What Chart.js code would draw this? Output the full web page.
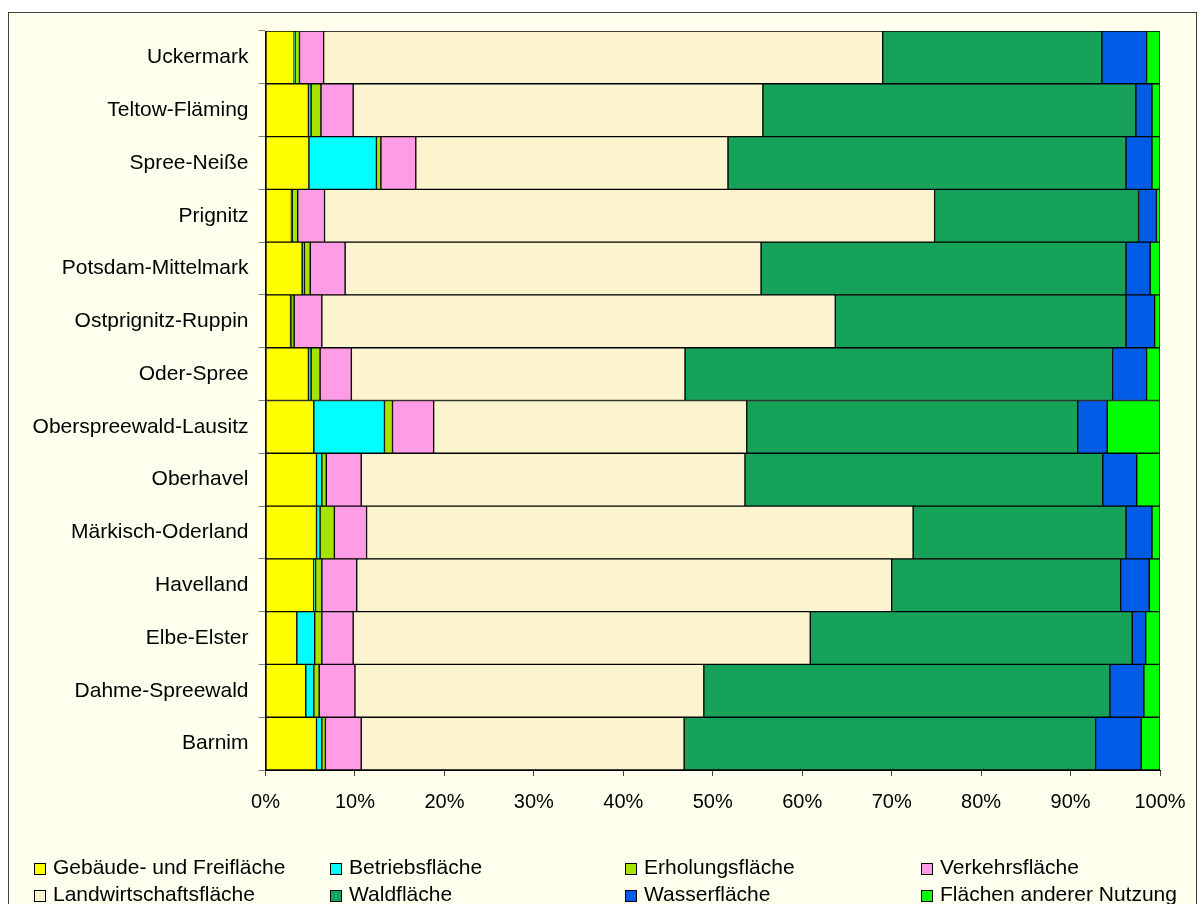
<!DOCTYPE html>
<html>
<head>
<meta charset="utf-8">
<script src="https://cdn.jsdelivr.net/npm/chart.js@4"></script>
<style>
  html, body { margin: 0; padding: 0; background: #fff; }
  #frame {
    position: absolute; left: 8px; top: 12px; width: 1187px; height: 900px;
    background: #ffffee; border: 1px solid #404040;
  }
  #wrap { position: absolute; left: 0; top: 0; width: 1204px; height: 904px; }
</style>
</head>
<body>
<div id="frame"></div>
<div id="wrap"><canvas id="landUse"></canvas></div>
<script>
const districts = [
  "Uckermark", "Teltow-Fläming", "Spree-Neiße", "Prignitz", "Potsdam-Mittelmark",
  "Ostprignitz-Ruppin", "Oder-Spree", "Oberspreewald-Lausitz", "Oberhavel",
  "Märkisch-Oderland", "Havelland", "Elbe-Elster", "Dahme-Spreewald", "Barnim"
];

const seriesNames = [
  "Gebäude- und Freifläche", "Betriebsfläche", "Erholungsfläche", "Verkehrsfläche",
  "Landwirtschaftsfläche", "Waldfläche", "Wasserfläche", "Flächen anderer Nutzung"
];

const gebaeude = [3.2, 4.8, 4.85, 2.9, 4.1, 2.8, 4.8, 5.4, 5.7, 5.7, 5.4, 3.5, 4.5, 5.7];
const betrieb = [0.1, 0.3, 7.55, 0.1, 0.25, 0.1, 0.3, 7.9, 0.6, 0.4, 0.2, 2.0, 0.9, 0.6];
const erholung = [0.5, 1.1, 0.5, 0.6, 0.65, 0.3, 1.0, 0.9, 0.5, 1.6, 0.7, 0.8, 0.6, 0.4];
const verkehr = [2.7, 3.6, 3.9, 3.0, 3.9, 3.1, 3.5, 4.6, 3.9, 3.6, 3.9, 3.5, 4.0, 4.0];
const landwirtschaft = [62.5, 45.8, 34.9, 68.2, 46.5, 57.4, 37.3, 35.0, 42.9, 61.1, 59.8, 51.1, 39.0, 36.1];
const wald = [24.5, 41.7, 44.5, 22.8, 40.8, 32.5, 47.8, 37.0, 40.0, 23.8, 25.6, 36.0, 45.4, 46.0];
const wasser = [5.0, 1.8, 2.9, 2.0, 2.7, 3.2, 3.8, 3.3, 3.8, 2.9, 3.2, 1.5, 3.8, 5.1];
const andere = [1.5, 0.9, 0.9, 0.4, 1.1, 0.6, 1.5, 5.9, 2.6, 0.9, 1.2, 1.6, 1.8, 2.1];

const xTicks = [0, 10, 20, 30, 40, 50, 60, 70, 80, 90, 100];

const seriesValues = [gebaeude, betrieb, erholung, verkehr, landwirtschaft, wald, wasser, andere];
const colors = ["#ffff00", "#00ffff", "#a6e300", "#ff9ce6", "#fcf4cf", "#17a25a", "#005ce6", "#00ff00"];

const fontFamily = "'Liberation Sans', Arial, sans-serif";

// legend drawn in a 4 x 2 grid like the original
const legendGrid = {
  id: "legendGrid",
  afterDraw(chart) {
    const ctx = chart.ctx;
    const colX = [34, 330, 625, 921];
    const rowY = [869, 896];
    ctx.save();
    ctx.font = "21px " + fontFamily;
    ctx.textBaseline = "alphabetic";
    chart.data.datasets.forEach((ds, i) => {
      const x = colX[i % 4];
      const y = rowY[Math.floor(i / 4)];
      ctx.fillStyle = ds.backgroundColor;
      ctx.fillRect(x, y - 6, 12, 12);
      ctx.strokeStyle = "#000";
      ctx.lineWidth = 1;
      ctx.strokeRect(x + 0.5, y - 5.5, 11, 11);
      ctx.fillStyle = "#000";
      ctx.fillText(ds.label, x + 19, y + 4.5);
    });
    ctx.restore();
  }
};

new Chart(document.getElementById("landUse"), {
  type: "bar",
  data: {
    labels: districts,
    datasets: seriesNames.map((name, i) => ({
      label: name,
      data: seriesValues[i],
      backgroundColor: colors[i],
      borderColor: "#000",
      borderWidth: 1,
      borderSkipped: false,
      categoryPercentage: 1,
      barPercentage: 1,
    })),
  },
  options: {
    indexAxis: "y",
    responsive: true,
    maintainAspectRatio: false,
    animation: false,
    layout: { padding: { top: 31, right: 44, bottom: 0, left: 0 } },
    plugins: { legend: { display: false }, tooltip: { enabled: false } },
    scales: {
      x: {
        stacked: true,
        min: 0,
        max: 100,
        afterBuildTicks: (scale) => { scale.ticks = xTicks.map((v) => ({ value: v })); },
        afterFit: (scale) => { scale.height = 134; },
        border: { color: "#000", width: 1 },
        grid: { drawOnChartArea: false, color: "#404040", tickLength: 6 },
        ticks: {
          color: "#000",
          padding: 14,
          font: { family: fontFamily, size: 20 },
          callback: (v) => v + "%",
        },
      },
      y: {
        stacked: true,
        afterFit: (scale) => { scale.width = 265.5; },
        border: { color: "#000", width: 1 },
        grid: { drawOnChartArea: false, color: "#808080", tickLength: 7, offset: true },
        ticks: {
          color: "#000",
          padding: 10,
          font: { family: fontFamily, size: 21 },
        },
      },
    },
  },
  plugins: [legendGrid],
});
</script>
</body>
</html>
